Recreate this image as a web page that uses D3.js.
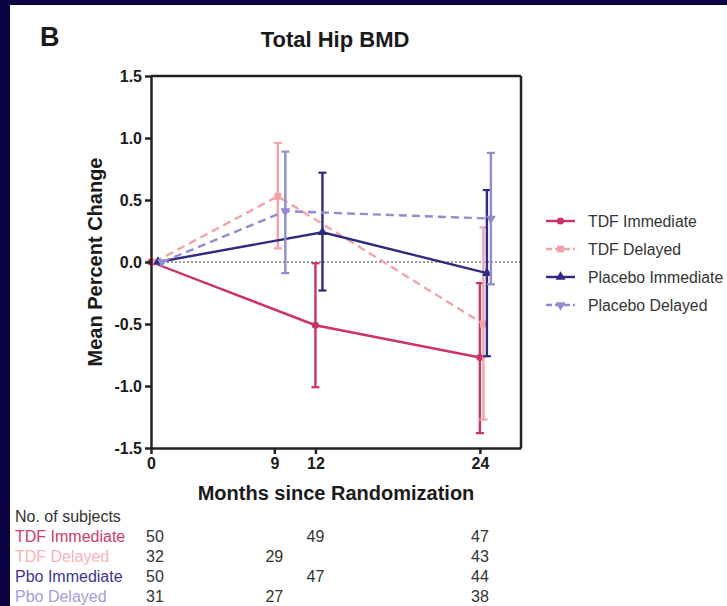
<!DOCTYPE html>
<html>
<head>
<meta charset="utf-8">
<script src="https://cdn.jsdelivr.net/npm/d3@7"></script>
<style>
  body { margin: 0; background: #0b0442; }
  svg { display: block; }
  text { font-family: "Liberation Sans", Arial, sans-serif; }
</style>
</head>
<body>
<div id="chart"></div>
<script>
// Data (percent change of total hip BMD)
let seriesNames = ["TDF Immediate", "TDF Delayed", "Placebo Immediate", "Placebo Delayed"];
let tableNames = ["TDF Immediate", "TDF Delayed", "Pbo Immediate", "Pbo Delayed"];

let tdfImmMonths = [0, 12, 24];
let tdfImmMean = [0, -0.51, -0.77];
let tdfImmLow = [0, -1.01, -1.38];
let tdfImmHigh = [0, -0.01, -0.17];
let tdfImmN = [50, 49, 47];

let tdfDelMonths = [0, 9, 24];
let tdfDelMean = [0, 0.53, -0.50];
let tdfDelLow = [0, 0.11, -1.27];
let tdfDelHigh = [0, 0.96, 0.28];
let tdfDelN = [32, 29, 43];

let pboImmMonths = [0, 12, 24];
let pboImmMean = [0, 0.24, -0.09];
let pboImmLow = [0, -0.23, -0.76];
let pboImmHigh = [0, 0.72, 0.58];
let pboImmN = [50, 47, 44];

let pboDelMonths = [0, 9, 24];
let pboDelMean = [0, 0.41, 0.35];
let pboDelLow = [0, -0.09, -0.18];
let pboDelHigh = [0, 0.89, 0.88];
let pboDelN = [31, 27, 38];

let yTicks = [-1.5, -1.0, -0.5, 0.0, 0.5, 1.0, 1.5];
let xTicks = [0, 9, 12, 24];

function drawChart(width, height, selector) {

  // colours and styles per series
  let colors = ["#cc3363", "#f4a3a8", "#2e2a80", "#908cd0"];
  let labelColors = ["#d03a6a", "#f6b4b6", "#3b3692", "#a29ed8"];
  let dashes = [null, "8,5", null, "8,5"];
  let symbols = ["circle", "square", "up", "down"];
  let dodge = [0, 3.5, 7, 11]; // GraphPad style horizontal nudge, px

  let series = [
    { months: tdfImmMonths, mean: tdfImmMean, low: tdfImmLow, high: tdfImmHigh, n: tdfImmN },
    { months: tdfDelMonths, mean: tdfDelMean, low: tdfDelLow, high: tdfDelHigh, n: tdfDelN },
    { months: pboImmMonths, mean: pboImmMean, low: pboImmLow, high: pboImmHigh, n: pboImmN },
    { months: pboDelMonths, mean: pboDelMean, low: pboDelLow, high: pboDelHigh, n: pboDelN }
  ].map((s, i) => {
    s.name = seriesNames[i];
    s.points = s.months.map((m, j) => ({ month: m, mean: s.mean[j], low: s.low[j], high: s.high[j], n: s.n[j] }));
    return s;
  });

  let margin = { top: 76, left: 151, right: 206, bottom: 158 };
  let chartWidth = width - margin.left - margin.right;
  let chartHeight = height - margin.top - margin.bottom;

  let xPositionScale = d3.scaleLinear()
    .domain([0, 27])
    .range([0, chartWidth]);

  let yPositionScale = d3.scaleLinear()
    .domain([-1.5, 1.5])
    .range([chartHeight, 0]);

  let line = d3.line()
    .x(d => xPositionScale(d.month))
    .y(d => yPositionScale(d.mean));

  let svg = d3.select(selector)
    .append("svg")
    .attr("width", width)
    .attr("height", height);

  // dark slide background with white panel
  svg.append("rect").attr("width", width).attr("height", height).attr("fill", "#0b0442");
  svg.append("rect").attr("x", 10).attr("y", 5).attr("width", width - 10).attr("height", height - 5).attr("fill", "#ffffff");

  // panel letter and title
  svg.append("text")
    .attr("x", 40).attr("y", 46)
    .attr("font-size", 27).attr("font-weight", "bold").attr("fill", "#1a1a1a")
    .text("B");

  svg.append("text")
    .attr("x", 335).attr("y", 47)
    .attr("text-anchor", "middle")
    .attr("font-size", 22).attr("font-weight", "bold").attr("fill", "#1a1a1a")
    .text("Total Hip BMD");

  let chart = svg.append("g")
    .attr("transform", "translate(" + margin.left + "," + margin.top + ")");

  // zero reference line
  chart.append("line")
    .attr("x1", 0).attr("x2", chartWidth)
    .attr("y1", yPositionScale(0)).attr("y2", yPositionScale(0))
    .attr("stroke", "#7a7a7a").attr("stroke-width", 1.6)
    .attr("stroke-dasharray", "2,2");

  // symbol path helper
  function symbolPath(kind) {
    if (kind == "circle") return d3.symbol(d3.symbolCircle, 40)();
    if (kind == "square") return d3.symbol(d3.symbolSquare, 48)();
    return d3.symbol(d3.symbolTriangle, 42)();
  }

  series.forEach(function(s, i) {
    let g = chart.append("g").attr("transform", "translate(" + dodge[i] + ",0)");

    g.append("path")
      .attr("d", line(s.points))
      .attr("fill", "none")
      .attr("stroke", colors[i])
      .attr("stroke-width", 2.4)
      .attr("stroke-dasharray", dashes[i]);

    // error bars
    let bars = g.selectAll(".err").data(s.points.filter(d => d.high != d.low))
      .enter().append("g");
    bars.append("line")
      .attr("x1", d => xPositionScale(d.month)).attr("x2", d => xPositionScale(d.month))
      .attr("y1", d => yPositionScale(d.low)).attr("y2", d => yPositionScale(d.high))
      .attr("stroke", colors[i]).attr("stroke-width", 2.4);
    bars.selectAll(".cap").data(d => [d.low, d.high].map(v => ({ month: d.month, v: v })))
      .enter().append("line")
      .attr("x1", d => xPositionScale(d.month) - 4).attr("x2", d => xPositionScale(d.month) + 4)
      .attr("y1", d => yPositionScale(d.v)).attr("y2", d => yPositionScale(d.v))
      .attr("stroke", colors[i]).attr("stroke-width", 2.2);

    // markers
    g.selectAll(".mark").data(s.points)
      .enter().append("path")
      .attr("d", symbolPath(symbols[i]))
      .attr("transform", d => "translate(" + xPositionScale(d.month) + "," + yPositionScale(d.mean) + ")" + (symbols[i] == "down" ? " rotate(180)" : ""))
      .attr("fill", colors[i]);
  });

  // frame: top and right
  chart.append("line")
    .attr("x1", 0).attr("x2", chartWidth).attr("y1", 0).attr("y2", 0)
    .attr("stroke", "#222").attr("stroke-width", 2.5);
  chart.append("line")
    .attr("x1", chartWidth).attr("x2", chartWidth).attr("y1", 0).attr("y2", chartHeight)
    .attr("stroke", "#222").attr("stroke-width", 2.5);

  // axes
  let yAxis = d3.axisLeft(yPositionScale)
    .tickValues(yTicks)
    .tickSize(6)
    .tickSizeOuter(0)
    .tickPadding(3)
    .tickFormat(d => d.toFixed(1));

  chart.append("g")
    .attr("class", "axis y-axis")
    .call(yAxis);

  let xAxis = d3.axisBottom(xPositionScale)
    .tickValues(xTicks)
    .tickSize(6)
    .tickSizeOuter(0)
    .tickPadding(4)
    .tickFormat(d3.format("d"));

  chart.append("g")
    .attr("class", "axis x-axis")
    .attr("transform", "translate(0," + chartHeight + ")")
    .call(xAxis);

  chart.selectAll(".axis path, .axis line")
    .attr("stroke", "#222").attr("stroke-width", 2.5);
  chart.selectAll(".axis text")
    .attr("font-family", "Liberation Sans, Arial, sans-serif")
    .attr("font-size", 16).attr("font-weight", "bold").attr("fill", "#1a1a1a");

  // axis titles
  chart.append("text")
    .attr("transform", "translate(-49," + (chartHeight / 2) + ") rotate(-90)")
    .attr("text-anchor", "middle")
    .attr("font-size", 20).attr("font-weight", "bold").attr("fill", "#1a1a1a")
    .text("Mean Percent Change");

  chart.append("text")
    .attr("x", chartWidth / 2).attr("y", chartHeight + 52)
    .attr("text-anchor", "middle")
    .attr("font-size", 20).attr("font-weight", "bold").attr("fill", "#1a1a1a")
    .text("Months since Randomization");

  // legend
  let legend = svg.append("g").attr("transform", "translate(546,221)");
  series.forEach(function(s, i) {
    let row = legend.append("g").attr("transform", "translate(0," + (i * 28) + ")");
    row.append("line")
      .attr("x1", 0).attr("x2", 29).attr("y1", 0).attr("y2", 0)
      .attr("stroke", colors[i]).attr("stroke-width", 2.4)
      .attr("stroke-dasharray", dashes[i] ? "6,3" : null);
    row.append("path")
      .attr("d", symbolPath(symbols[i]))
      .attr("transform", "translate(14.5,0)" + (symbols[i] == "down" ? " rotate(180)" : ""))
      .attr("fill", colors[i]);
    row.append("text")
      .attr("x", 42).attr("y", 6)
      .attr("font-size", 15.8).attr("fill", "#333")
      .text(s.name);
  });

  // number of subjects table
  let table = svg.append("g");
  table.append("text")
    .attr("x", 15).attr("y", 522)
    .attr("font-size", 16).attr("fill", "#333")
    .text("No. of subjects");

  series.forEach(function(s, i) {
    let y = 542 + i * 20;
    table.append("text")
      .attr("x", 15).attr("y", y)
      .attr("font-size", 16).attr("fill", labelColors[i])
      .text(tableNames[i]);
    table.selectAll(".n-" + i).data(s.points)
      .enter().append("text")
      .attr("x", d => margin.left + xPositionScale(d.month) + (d.month == 0 ? 4 : 0))
      .attr("y", y)
      .attr("text-anchor", "middle")
      .attr("font-size", 16).attr("fill", "#333")
      .text(d => d.n);
  });
}

drawChart(727, 606, "#chart");
</script>
</body>
</html>
